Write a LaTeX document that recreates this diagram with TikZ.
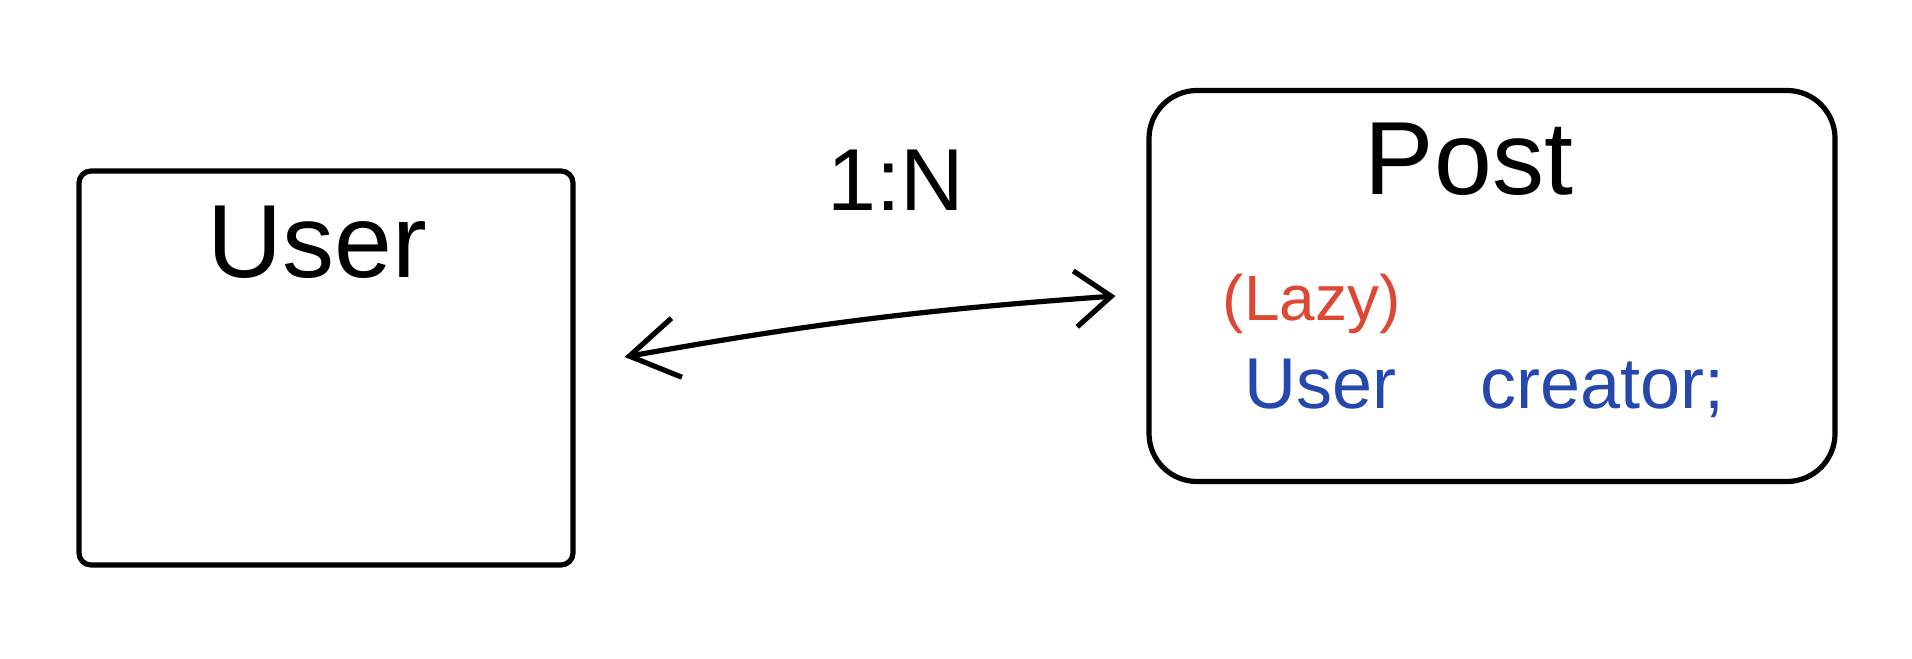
\documentclass[tikz,border=0pt]{standalone}
\usepackage{fontspec}
\setmainfont{Liberation Sans}
\usetikzlibrary{arrows.meta}
\definecolor{lazyred}{RGB}{221,72,52}
\definecolor{fieldblue}{RGB}{38,72,172}

\begin{document}
\begin{tikzpicture} [x=0.25pt, y=-0.25pt,
				entity/.style={
				% The shape:
				rectangle, rounded corners=3pt,
				% The size:
				minimum width=123.5pt, minimum height=98.5pt,
				% The border:
				line width=1.3pt, draw=black,
				inner sep=0pt
				},
				model/.style={
				% The shape:
				rectangle, rounded corners=12pt,
				% The size:
				minimum width=171.5pt, minimum height=97.75pt,
				% The border:
				line width=1.3pt, draw=black,
				inner sep=0pt
				},
				title/.style={
				% Font
				font=\fontsize{26}{28}\selectfont
				},
				field/.style={
				% Font
				font=\fontsize{18}{20}\selectfont, anchor=west
				},
				rel/.style={
				line width=1.3pt,
				{Straight Barb[length=12pt,width=15pt]}-{Straight Barb[length=9pt,width=14pt]}
				},
				]
    \tikzstyle{every node} = [align=center, inner sep=0pt]
    \useasboundingbox (0,0) rectangle (1912,659);
    % the two entities
    \node [entity] (user) at (326,368) {};
    \node [model] (post) at (1492,286) {};
    % their names
    \node [title] (usertitle) at (317,242) {User};
    \node [title] (posttitle) at (1469,159) {Post};
    % the field inside Post
    \node [field, text=lazyred, font=\fontsize{16}{18}\selectfont] (lazy) at (1222,304) {(Lazy)};
    \node [field, text=fieldblue] (creator) at (1244,388) {User\hspace{21pt}creator;};
    % the relation
    \draw [rel] ([shift={(49,-11)}]user.east) to[bend left=3] ([shift={(-31,10)}]post.west);
    \node [font=\fontsize{22}{24}\selectfont] (card) at (896,180) {1:N};
\end{tikzpicture}
\end{document}
